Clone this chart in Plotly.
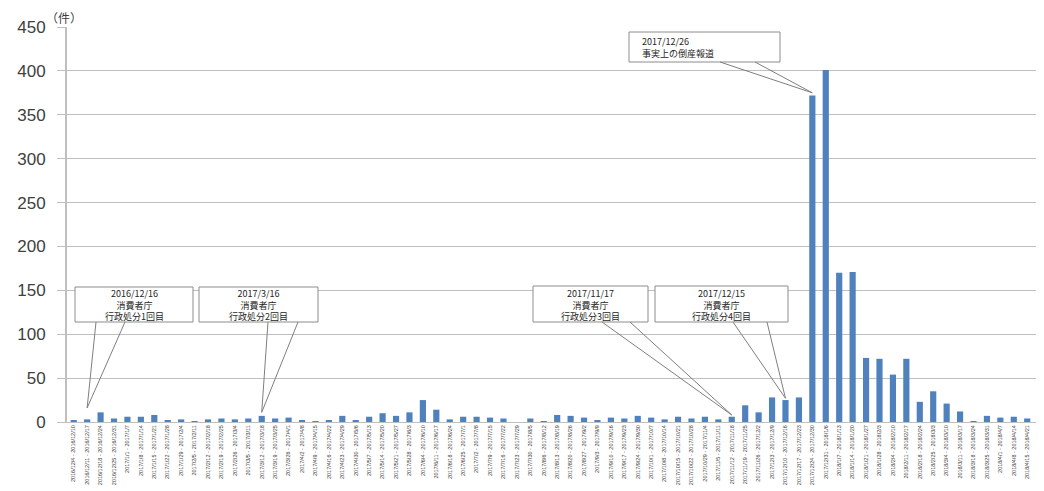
import plotly.graph_objects as go

week_labels = [
    "2016/12/4 - 2016/12/10", "2016/12/11 - 2016/12/17", "2016/12/18 - 2016/12/24",
    "2016/12/25 - 2016/12/31", "2017/1/1 - 2017/1/7", "2017/1/8 - 2017/1/14",
    "2017/1/15 - 2017/1/21", "2017/1/22 - 2017/1/28", "2017/1/29 - 2017/2/4",
    "2017/2/5 - 2017/2/11", "2017/2/12 - 2017/2/18", "2017/2/19 - 2017/2/25",
    "2017/2/26 - 2017/3/4", "2017/3/5 - 2017/3/11", "2017/3/12 - 2017/3/18",
    "2017/3/19 - 2017/3/25", "2017/3/26 - 2017/4/1", "2017/4/2 - 2017/4/8",
    "2017/4/9 - 2017/4/15", "2017/4/16 - 2017/4/22", "2017/4/23 - 2017/4/29",
    "2017/4/30 - 2017/5/6", "2017/5/7 - 2017/5/13", "2017/5/14 - 2017/5/20",
    "2017/5/21 - 2017/5/27", "2017/5/28 - 2017/6/3", "2017/6/4 - 2017/6/10",
    "2017/6/11 - 2017/6/17", "2017/6/18 - 2017/6/24", "2017/6/25 - 2017/7/1",
    "2017/7/2 - 2017/7/8", "2017/7/9 - 2017/7/15", "2017/7/16 - 2017/7/22",
    "2017/7/23 - 2017/7/29", "2017/7/30 - 2017/8/5", "2017/8/6 - 2017/8/12",
    "2017/8/13 - 2017/8/19", "2017/8/20 - 2017/8/26", "2017/8/27 - 2017/9/2",
    "2017/9/3 - 2017/9/9", "2017/9/10 - 2017/9/16", "2017/9/17 - 2017/9/23",
    "2017/9/24 - 2017/9/30", "2017/10/1 - 2017/10/7", "2017/10/8 - 2017/10/14",
    "2017/10/15 - 2017/10/21", "2017/10/22 - 2017/10/28", "2017/10/29 - 2017/11/4",
    "2017/11/5 - 2017/11/11", "2017/11/12 - 2017/11/18", "2017/11/19 - 2017/11/25",
    "2017/11/26 - 2017/12/2", "2017/12/3 - 2017/12/9", "2017/12/10 - 2017/12/16",
    "2017/12/17 - 2017/12/23", "2017/12/24 - 2017/12/30", "2017/12/31 - 2018/1/6",
    "2018/1/7 - 2018/1/13", "2018/1/14 - 2018/1/20", "2018/1/21 - 2018/1/27",
    "2018/1/28 - 2018/2/3", "2018/2/4 - 2018/2/10", "2018/2/11 - 2018/2/17",
    "2018/2/18 - 2018/2/24", "2018/2/25 - 2018/3/3", "2018/3/4 - 2018/3/10",
    "2018/3/11 - 2018/3/17", "2018/3/18 - 2018/3/24", "2018/3/25 - 2018/3/31",
    "2018/4/1 - 2018/4/7", "2018/4/8 - 2018/4/14", "2018/4/15 - 2018/4/21",
    "2018/4/22 - 2018/4/28",
]

counts = [
    2, 3, 11, 4, 6, 6, 8, 2, 3, 1,
    3, 4, 3, 4, 7, 4, 5, 2, 1, 2,
    7, 2, 6, 10, 7, 11, 25, 14, 3, 6,
    6, 5, 4, 0, 4, 1, 8, 7, 5, 2,
    5, 4, 7, 5, 3, 6, 4, 6, 3, 6,
    19, 11, 28, 25, 28, 372, 401, 170, 171, 73,
    72, 54, 72, 23, 35, 21, 12, 1, 7, 5,
    6, 4, 6,
]

y_ticks = [0, 50, 100, 150, 200, 250, 300, 350, 400, 450]

event_week = [1, 14, 49, 53, 55]
event_text = [
    "2016/12/16<br>消費者庁<br>行政処分1回目",
    "2017/3/16<br>消費者庁<br>行政処分2回目",
    "2017/11/17<br>消費者庁<br>行政処分3回目",
    "2017/12/15<br>消費者庁<br>行政処分4回目",
    "2017/12/26<br>事実上の倒産報道",
]

# ---- layout helpers (page pixel positions; page body has an 8px margin) ----
PAGE_OFF = 8
W, H = 1044 - PAGE_OFF, 491 - PAGE_OFF
ml, mr, mt, mb = 67 - PAGE_OFF, 0, 27 - PAGE_OFF, 69
xr = [-0.5, 72.25]
yr = [0, 450]
pw = W - ml - mr
ph = H - mt - mb
plot_left = ml + PAGE_OFF
plot_bottom = PAGE_OFF + H - mb


def px2x(px):
    return xr[0] + (px - plot_left) / pw * (xr[1] - xr[0])


def py2y(py):
    return yr[0] + (plot_bottom - py) / ph * (yr[1] - yr[0])


# box: (left, right, top, bottom, line-start a, b, tip gap, align)
boxes = [
    (75, 193, 287, 322, 96, 125, 13, "center"),
    (199, 318, 287, 322, 268, 298, 4, "center"),
    (533, 648, 286, 322, 602, 630, 2, "center"),
    (655, 788, 286, 322, 733, 767, 2, "center"),
    (629, 780, 32, 62, 720, 755, 3, "left"),
]

x_idx = list(range(len(counts)))

fig = go.Figure()
fig.add_trace(go.Bar(
    x=x_idx, y=counts, width=0.46,
    marker=dict(color="#4f81bd", line=dict(width=0)),
    hoverinfo="x+y",
))

shapes = []
annotations = []
for k, (l, r, t, b, la, lb, gap, align) in enumerate(boxes):
    wi = event_week[k]
    tipx = x_idx[wi]
    tipy = counts[wi] + gap
    shapes.append(dict(type="rect", xref="x", yref="y",
                       x0=px2x(l), x1=px2x(r), y0=py2y(b), y1=py2y(t),
                       fillcolor="white", line=dict(color="#8c8c8c", width=1),
                       layer="above"))
    for sx in (la, lb):
        shapes.append(dict(type="line", xref="x", yref="y",
                           x0=px2x(sx), y0=py2y(b), x1=tipx, y1=tipy,
                           line=dict(color="#7f7f7f", width=1), layer="above"))
    if align == "left":
        ax, anchor = px2x(l + 11), "left"
    else:
        ax, anchor = px2x((l + r) / 2), "center"
    annotations.append(dict(
        xref="x", yref="y", x=ax, y=py2y((t + b) / 2 + 0.5),
        xanchor=anchor, yanchor="middle", align=align,
        text=event_text[k], showarrow=False,
        font=dict(family="Noto Sans CJK JP", size=9, color="#262626"),
    ))

annotations.append(dict(
    xref="paper", yref="paper", x=(44 - plot_left) / pw, y=(plot_bottom - 17) / ph,
    xanchor="left", yanchor="middle", text="（件）", showarrow=False,
    font=dict(family="Noto Sans CJK JP", size=12, color="#404040"),
))

fig.update_layout(
    width=W, height=H,
    margin=dict(l=ml, r=mr, t=mt, b=mb, autoexpand=False),
    paper_bgcolor="white", plot_bgcolor="white",
    showlegend=False,
    shapes=shapes, annotations=annotations,
    xaxis=dict(
        range=xr, tickmode="array", tickvals=x_idx, ticktext=week_labels,
        tickangle=-90, tickfont=dict(family="Liberation Sans", size=5.5, color="#404040"),
        showline=True, linecolor="#bfbfbf", linewidth=1, showgrid=False,
        ticks="", zeroline=False, automargin=False,
    ),
    yaxis=dict(
        range=yr, tickmode="array", tickvals=y_ticks,
        tickfont=dict(family="Liberation Sans", size=17, color="#404040"),
        showline=True, linecolor="#bfbfbf", linewidth=2,
        gridcolor="#bfbfbf", gridwidth=1, zeroline=False,
        ticks="outside", ticklen=8, tickcolor="#bfbfbf",
        ticklabelstandoff=8, automargin=False,
    ),
    bargap=0.5,
)

fig.write_html("out.html")
